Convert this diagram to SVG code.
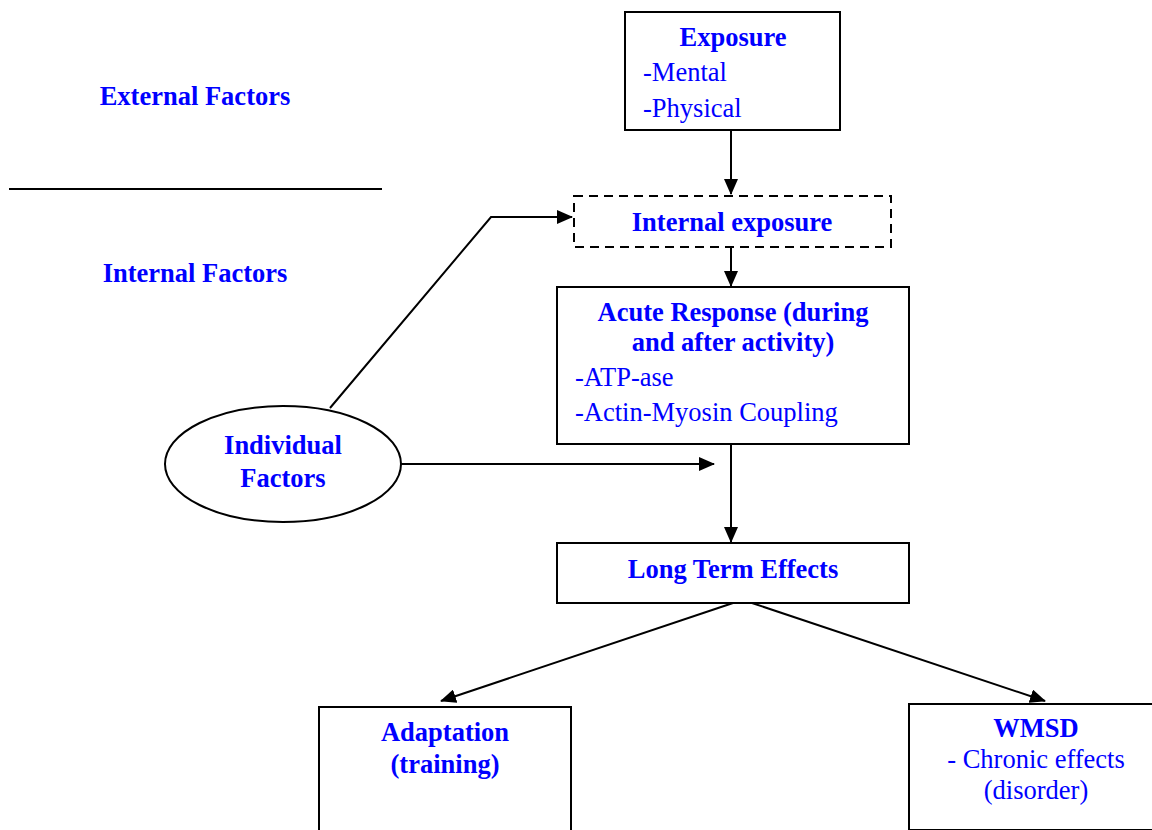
<svg xmlns="http://www.w3.org/2000/svg" width="1152" height="830" viewBox="0 0 1152 830">
<defs>
<style>
.box{fill:#fff;stroke:#000;stroke-width:2}
.dash{fill:#fff;stroke:#000;stroke-width:2;stroke-dasharray:9 6}
.ln{fill:none;stroke:#000;stroke-width:2}
.t{font-family:"Liberation Serif","Times New Roman",serif;font-size:26.5px;fill:#0000ff}
.b{font-weight:bold}
.c{text-anchor:middle}
</style>
<marker id="ah" viewBox="0 0 16 14" refX="15" refY="7" markerWidth="16" markerHeight="14" markerUnits="userSpaceOnUse" orient="auto">
<path d="M0,0 L16,7 L0,14 z" fill="#000"/>
</marker>
</defs>
<rect width="1152" height="830" fill="#fff"/>
<g id="labels">
<text class="t b c" x="195" y="105">External Factors</text>
<line class="ln" x1="9" y1="189" x2="382" y2="189"/>
<text class="t b c" x="195" y="282">Internal Factors</text>
</g>
<g id="connectors">
<line class="ln" x1="731" y1="130" x2="731" y2="194" marker-end="url(#ah)"/>
<line class="ln" x1="731" y1="247" x2="731" y2="286" marker-end="url(#ah)"/>
<line class="ln" x1="731" y1="444" x2="731" y2="542" marker-end="url(#ah)"/>
<polyline class="ln" points="330,408 491,217 572,217" marker-end="url(#ah)"/>
<line class="ln" x1="400" y1="464" x2="714" y2="464" marker-end="url(#ah)"/>
<line class="ln" x1="733" y1="603" x2="441" y2="701" marker-end="url(#ah)"/>
<line class="ln" x1="752" y1="603" x2="1045" y2="701" marker-end="url(#ah)"/>
</g>
<g id="exposure">
<rect class="box" x="625" y="12" width="215" height="118"/>
<text class="t b c" x="733" y="46">Exposure</text>
<text class="t" x="643" y="81">-Mental</text>
<text class="t" x="643" y="117">-Physical</text>
</g>
<g id="internal-exposure">
<rect class="dash" x="574" y="196" width="317" height="51"/>
<text class="t b c" x="732" y="231">Internal exposure</text>
</g>
<g id="acute-response">
<rect class="box" x="557" y="287" width="352" height="157"/>
<text class="t b c" x="733" y="321">Acute Response (during</text>
<text class="t b c" x="733" y="351">and after activity)</text>
<text class="t" x="575" y="386">-ATP-ase</text>
<text class="t" x="575" y="421">-Actin-Myosin Coupling</text>
</g>
<g id="individual-factors">
<ellipse class="box" cx="283" cy="464" rx="118" ry="58"/>
<text class="t b c" x="283" y="454">Individual</text>
<text class="t b c" x="283" y="487">Factors</text>
</g>
<g id="long-term">
<rect class="box" x="557" y="543" width="352" height="60"/>
<text class="t b c" x="733" y="578">Long Term Effects</text>
</g>
<g id="adaptation">
<rect class="box" x="319" y="707" width="252" height="130"/>
<text class="t b c" x="445" y="741">Adaptation</text>
<text class="t b c" x="445" y="773">(training)</text>
</g>
<g id="wmsd">
<rect class="box" x="909" y="704" width="260" height="126"/>
<text class="t b c" x="1036" y="737">WMSD</text>
<text class="t c" x="1036" y="768">- Chronic effects</text>
<text class="t c" x="1036" y="799">(disorder)</text>
</g>
</svg>
